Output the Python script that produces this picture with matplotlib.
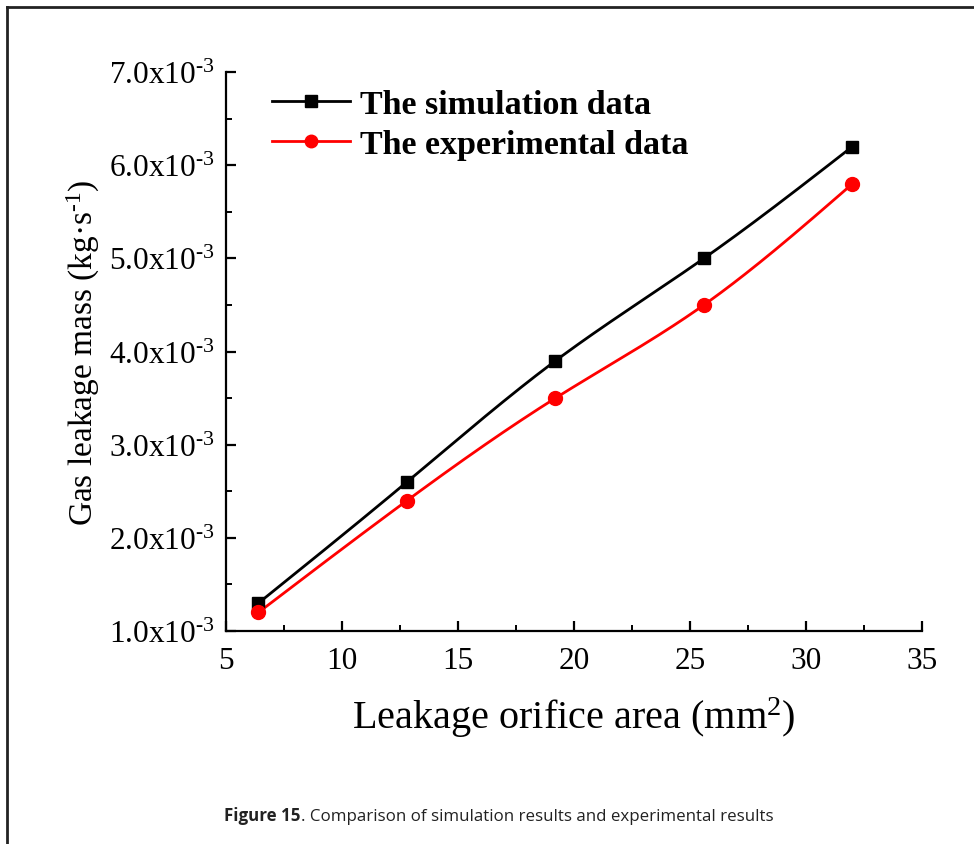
import numpy as np
import matplotlib
matplotlib.use("Agg")
import matplotlib.pyplot as plt
from matplotlib.lines import Line2D
from matplotlib.ticker import MultipleLocator, FuncFormatter

# Leakage orifice area (mm^2) and gas leakage mass flow (x10^-3 kg/s)
orifice_area = [6.4, 12.8, 19.2, 25.6, 32.0]
simulation = [1.3, 2.6, 3.9, 5.0, 6.2]
experimental = [1.2, 2.4, 3.5, 4.5, 5.8]
y_ticks = [1.0, 2.0, 3.0, 4.0, 5.0, 6.0, 7.0]
x_ticks = [5, 10, 15, 20, 25, 30, 35]

plt.rcParams["mathtext.fontset"] = "custom"
plt.rcParams["mathtext.rm"] = "Liberation Serif"
plt.rcParams["mathtext.it"] = "Liberation Serif:italic"
plt.rcParams["mathtext.bf"] = "Liberation Serif:bold"
SERIF = "Liberation Serif"


def natural_spline(x, y, n=200):
    """Smooth connecting curve through the points (natural cubic spline)."""
    x = np.asarray(x, float)
    y = np.asarray(y, float)
    k = len(x)
    h = np.diff(x)
    A = np.zeros((k, k))
    b = np.zeros(k)
    A[0, 0] = A[-1, -1] = 1.0
    for i in range(1, k - 1):
        A[i, i - 1] = h[i - 1]
        A[i, i] = 2 * (h[i - 1] + h[i])
        A[i, i + 1] = h[i]
        b[i] = 6 * ((y[i + 1] - y[i]) / h[i] - (y[i] - y[i - 1]) / h[i - 1])
    M = np.linalg.solve(A, b)
    xs = np.linspace(x[0], x[-1], n)
    idx = np.clip(np.searchsorted(x, xs) - 1, 0, k - 2)
    x0, x1 = x[idx], x[idx + 1]
    hh = x1 - x0
    t0, t1 = x1 - xs, xs - x0
    ys = (M[idx] * t0**3 + M[idx + 1] * t1**3) / (6 * hh) \
        + (y[idx] / hh - M[idx] * hh / 6) * t0 \
        + (y[idx + 1] / hh - M[idx + 1] * hh / 6) * t1
    return xs, ys


fig = plt.figure(figsize=(9.74, 8.45), dpi=100)
ax = fig.add_axes([0.232, 0.252, 0.7146, 0.6616])

for vals, color, marker, ms in [(simulation, "black", "s", 9),
                                (experimental, "red", "o", 10)]:
    xs, ys = natural_spline(orifice_area, vals)
    ax.plot(xs, ys, color=color, lw=2.0, zorder=2)
    ax.plot(orifice_area, vals, ls="none", marker=marker, ms=ms,
            color=color, zorder=3)

ax.set_xlim(5, 35)
ax.set_ylim(1.0, 7.0)
ax.set_xticks(x_ticks)
ax.set_yticks(y_ticks)
ax.xaxis.set_minor_locator(MultipleLocator(2.5))
ax.yaxis.set_minor_locator(MultipleLocator(0.5))
ax.yaxis.set_major_formatter(
    FuncFormatter(lambda v, p: f"{v:.1f}x10$^{{\\text{{-3}}}}$"))

for side in ("top", "right"):
    ax.spines[side].set_visible(False)
for side in ("left", "bottom"):
    ax.spines[side].set_linewidth(1.6)

ax.tick_params(which="major", direction="in", length=7, width=1.6,
               labelsize=22.5, pad=8)
ax.tick_params(axis="x", which="major", pad=11)
ax.tick_params(which="minor", direction="in", length=4, width=1.4)
for lab in ax.get_xticklabels() + ax.get_yticklabels():
    lab.set_fontfamily(SERIF)

ax.set_xlabel("Leakage orifice area (mm$^2$)", fontsize=29,
              fontfamily=SERIF, labelpad=14)
ax.set_ylabel("Gas leakage mass (kg·s$^{\\text{-1}}$)", fontsize=24,
              fontfamily=SERIF, labelpad=5)

handles = [
    Line2D([], [], color="black", lw=2.0, marker="s", ms=8),
    Line2D([], [], color="red", lw=2.0, marker="o", ms=9),
]
ax.legend(handles, ["The simulation data", "The experimental data"],
          loc="upper left", bbox_to_anchor=(0.066, 0.969), frameon=False,
          borderpad=0, borderaxespad=0,
          prop={"family": SERIF, "weight": "bold", "size": 24.5},
          handlelength=2.3, handletextpad=0.3, labelspacing=0.26)

# page frame lines
fig.add_artist(Line2D([0.007, 1.0], [0.990, 0.990], color="#222222",
                      lw=2.0, transform=fig.transFigure))
fig.add_artist(Line2D([0.0075, 0.0075], [0.0, 0.990], color="#222222",
                      lw=2.0, transform=fig.transFigure))

# caption
fig.text(0.309, 0.028, "Figure 15", ha="right", va="baseline",
         fontsize=12.2, fontweight="bold", fontfamily="Open Sans",
         color="#222222")
fig.text(0.309, 0.028, ". Comparison of simulation results and experimental results",
         ha="left", va="baseline", fontsize=12.2, fontfamily="Open Sans",
         color="#222222")

fig.savefig("out.png", dpi=100, facecolor="white")
